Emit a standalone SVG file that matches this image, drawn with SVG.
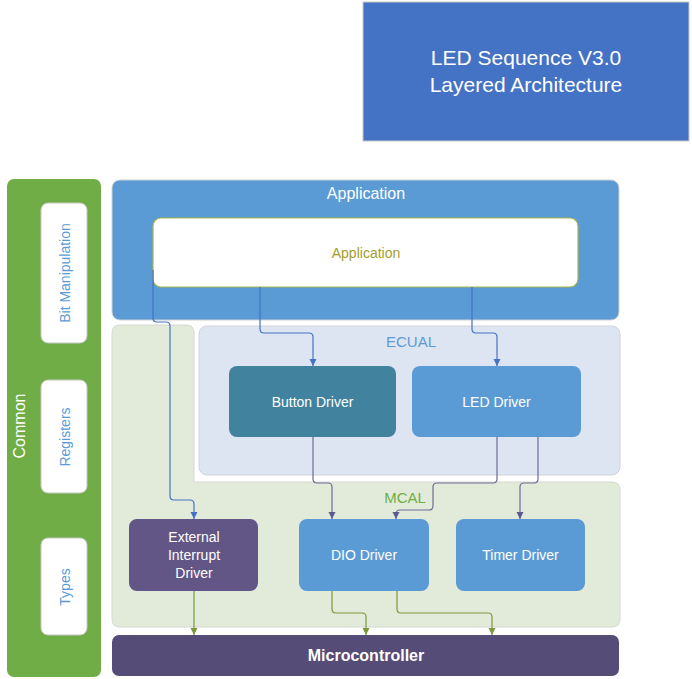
<svg xmlns="http://www.w3.org/2000/svg" width="692" height="679" viewBox="0 0 692 679">
<style>
text{font-family:"Liberation Sans",Arial,sans-serif;}
.w{fill:#FFFFFF;}
.mid{text-anchor:middle;}
.node{stroke:none;}
.side{fill:#FFFFFF;stroke:#C8C8C8;stroke-width:1;}
.sideT{fill:#5B9BD5;font-size:14px;text-anchor:middle;}
.c1{fill:none;stroke:#4472C4;stroke-width:1.2;}
.c2{fill:none;stroke:#6F6A99;stroke-width:1.2;}
.c3{fill:none;stroke:#7A9A3A;stroke-width:1.2;}
</style>
<defs>
<marker id="a1" markerUnits="userSpaceOnUse" markerWidth="8" markerHeight="8" refX="7" refY="4" orient="auto"><path d="M0,0.5 L7,4 L0,7.5 z" fill="#4472C4"/></marker>
<marker id="a2" markerUnits="userSpaceOnUse" markerWidth="8" markerHeight="8" refX="7" refY="4" orient="auto"><path d="M0,0.5 L7,4 L0,7.5 z" fill="#5E5890"/></marker>
<marker id="a3" markerUnits="userSpaceOnUse" markerWidth="8" markerHeight="8" refX="7" refY="4" orient="auto"><path d="M0,0.5 L7,4 L0,7.5 z" fill="#7A9A3A"/></marker>
</defs>
<rect width="692" height="679" fill="#FFFFFF"/>

<g id="title">
<rect x="363" y="2" width="326" height="139" fill="#4472C4" stroke="#C8C8C8" stroke-width="1"/>
<text class="w mid" x="526" y="65" font-size="21">LED Sequence V3.0</text>
<text class="w mid" x="526" y="92" font-size="21">Layered Architecture</text>
</g>

<g id="common">
<rect x="7" y="179" width="94" height="498" rx="7" fill="#71AD47"/>
<text class="w mid" font-size="16" transform="translate(25,426) rotate(-90)">Common</text>
</g>
<g id="bit-manipulation">
<rect class="side" x="41" y="203" width="46" height="140" rx="7"/>
<text class="sideT" transform="translate(70,273) rotate(-90)">Bit Manipulation</text>
</g>
<g id="registers">
<rect class="side" x="41" y="380" width="46" height="113" rx="7"/>
<text class="sideT" transform="translate(70,437) rotate(-90)">Registers</text>
</g>
<g id="types">
<rect class="side" x="41" y="538" width="46" height="97" rx="7"/>
<text class="sideT" transform="translate(70,587) rotate(-90)">Types</text>
</g>

<g id="application-layer">
<rect x="112" y="180" width="507" height="140" rx="8" fill="#5B9BD5" stroke="#D0D0D0" stroke-width="1"/>
<text class="w mid" x="366" y="199" font-size="16">Application</text>
</g>

<g id="mcal-layer">
<path d="M120,325 H186 Q194,325 194,333 V482 H612 Q620,482 620,490 V619 Q620,627 612,627 H120 Q112,627 112,619 V333 Q112,325 120,325 Z" fill="#E2EBDA" stroke="#D5D8D2" stroke-width="1"/>
<text class="mid" x="405" y="503" font-size="15" fill="#70AD47">MCAL</text>
</g>

<g id="ecual-layer">
<rect x="199" y="326" width="421" height="149" rx="8" fill="#DEE5F2" stroke="#D0D4DC" stroke-width="1"/>
<text class="mid" x="411" y="347" font-size="15" fill="#5B9BD5">ECUAL</text>
</g>

<g id="application">
<rect x="153" y="218" width="425" height="69" rx="8" fill="#FFFFFF" stroke="#A8B44A" stroke-width="1.2"/>
<text class="mid" x="366" y="258" font-size="14" fill="#A19E2C">Application</text>
</g>

<g id="button-driver">
<rect x="229" y="366" width="167" height="71" rx="8" fill="#41829E"/>
<text class="w mid" x="312.5" y="407" font-size="14">Button Driver</text>
</g>
<g id="led-driver">
<rect x="412" y="366" width="169" height="71" rx="8" fill="#5B9BD5"/>
<text class="w mid" x="496.5" y="407" font-size="14">LED Driver</text>
</g>

<g id="external-interrupt-driver">
<rect x="129" y="519" width="129" height="72" rx="8" fill="#625686"/>
<text class="w mid" x="194" y="542" font-size="14">External</text>
<text class="w mid" x="194" y="560" font-size="14">Interrupt</text>
<text class="w mid" x="194" y="578" font-size="14">Driver</text>
</g>
<g id="dio-driver">
<rect x="299" y="519" width="130" height="72" rx="8" fill="#5B9BD5"/>
<text class="w mid" x="364" y="560" font-size="14">DIO Driver</text>
</g>
<g id="timer-driver">
<rect x="456" y="519" width="129" height="72" rx="8" fill="#5B9BD5"/>
<text class="w mid" x="520.5" y="560" font-size="14">Timer Driver</text>
</g>

<g id="microcontroller">
<rect x="112" y="635" width="507" height="41" rx="7" fill="#564C78"/>
<text class="w mid" x="366" y="661" font-size="16" font-weight="bold">Microcontroller</text>
</g>

<g id="connectors">
<path class="c1" marker-end="url(#a1)" d="M153,270 V318 Q153,322 157,322 H166 Q170,322 170,326 V496 Q170,500 174,500 H190 Q194,500 194,504 V519"/>
<path class="c1" marker-end="url(#a1)" d="M260,287 V329 Q260,333 264,333 H309 Q313,333 313,337 V366"/>
<path class="c1" marker-end="url(#a1)" d="M472,287 V329 Q472,333 476,333 H493 Q497,333 497,337 V366"/>
<path class="c2" marker-end="url(#a2)" d="M313,437 V479 Q313,483 317,483 H328 Q332,483 332,487 V519"/>
<path class="c2" marker-end="url(#a2)" d="M497,437 V479 Q497,483 493,483 H437 Q433,483 433,487 V506 Q433,510 429,510 H400 Q396,510 396,514 V519"/>
<path class="c2" marker-end="url(#a2)" d="M538,437 V479 Q538,483 534,483 H524 Q520,483 520,487 V519"/>
<path class="c3" marker-end="url(#a3)" d="M194,591 V635"/>
<path class="c3" marker-end="url(#a3)" d="M332,591 V609 Q332,613 336,613 H362 Q366,613 366,617 V635"/>
<path class="c3" marker-end="url(#a3)" d="M397,591 V609 Q397,613 401,613 H488 Q492,613 492,617 V635"/>
</g>
</svg>
